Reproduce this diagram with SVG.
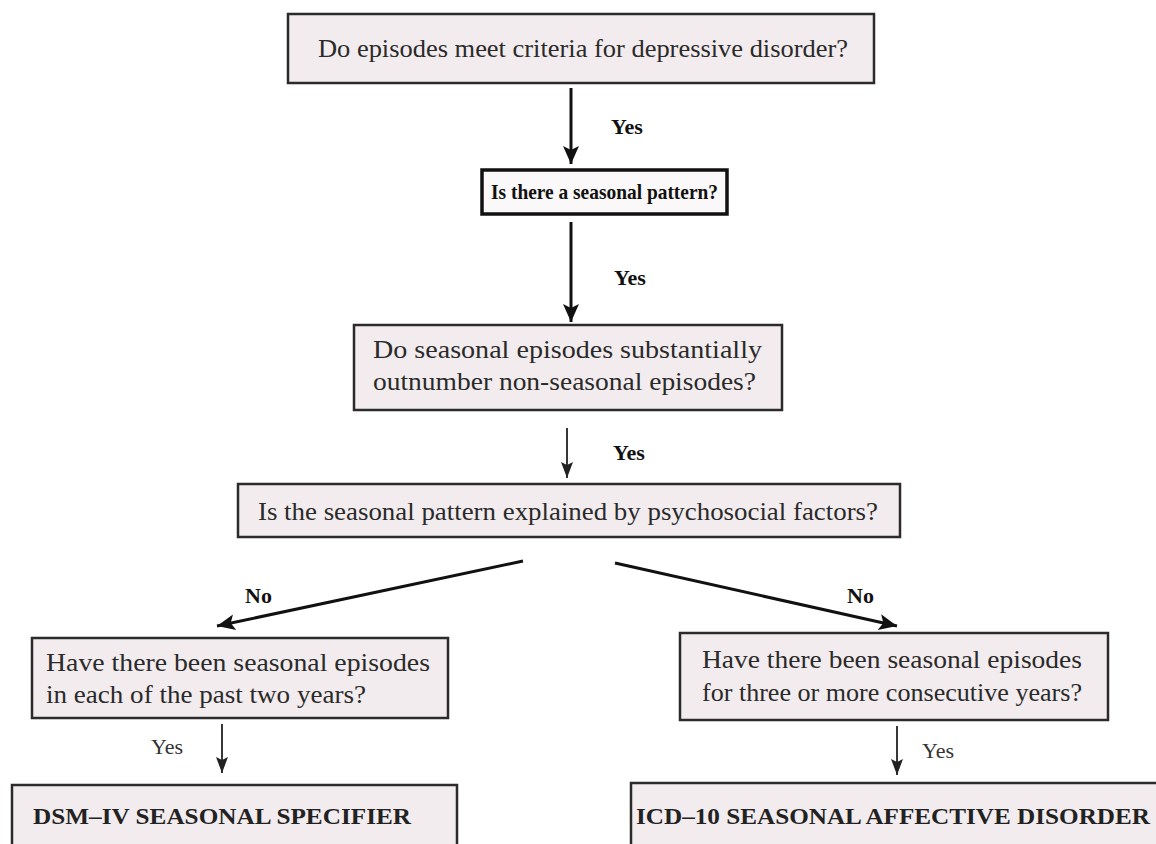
<svg xmlns="http://www.w3.org/2000/svg" width="1156" height="844" viewBox="0 0 1156 844">
<defs>
<style>
.box{fill:#f3ecee;stroke:#2b2b2b;stroke-width:2.5}
.boxb{fill:#faf8f8;stroke:#111;stroke-width:3.5}
.t{font-family:"Liberation Serif",serif;font-size:25px;fill:#2a2a2a}
.tb{font-family:"Liberation Serif",serif;font-size:21px;font-weight:bold;fill:#111}
.tc{font-family:"Liberation Serif",serif;font-size:24px;font-weight:bold;fill:#222}
.lab{font-family:"Liberation Serif",serif;font-size:22px;font-weight:bold;fill:#111}
.labr{font-family:"Liberation Serif",serif;font-size:22px;fill:#333}
.thick{stroke:#111;stroke-width:3;fill:none}
.thin{stroke:#222;stroke-width:1.8;fill:none}
</style>
<marker id="ah" markerUnits="userSpaceOnUse" markerWidth="22" markerHeight="22" viewBox="0 0 22 22" refX="20" refY="11" orient="auto">
<path d="M2,3 L20,11 L2,19 L6,11 Z" fill="#111"/>
</marker>
<marker id="ahs" markerUnits="userSpaceOnUse" markerWidth="18" markerHeight="18" viewBox="0 0 18 18" refX="17" refY="9" orient="auto">
<path d="M1,3 L17,9 L1,15 L4,9 Z" fill="#222"/>
</marker>
</defs>
<rect width="1156" height="844" fill="#fff"/>

<g id="connectors">
<line class="thick" x1="571" y1="88" x2="571" y2="164" marker-end="url(#ah)"/>
<line class="thick" x1="571" y1="222" x2="571" y2="322" marker-end="url(#ah)"/>
<line class="thin" x1="567" y1="428" x2="567" y2="478" marker-end="url(#ahs)"/>
<line class="thick" x1="523" y1="561" x2="217" y2="626" marker-end="url(#ah)"/>
<line class="thick" x1="615" y1="563" x2="897" y2="626" marker-end="url(#ah)"/>
<line class="thin" x1="222" y1="724" x2="222" y2="773" marker-end="url(#ahs)"/>
<line class="thin" x1="897" y1="726" x2="897" y2="775" marker-end="url(#ahs)"/>
<text class="lab" x="611" y="134">Yes</text>
<text class="lab" x="614" y="285">Yes</text>
<text class="lab" x="613" y="460">Yes</text>
<text class="lab" x="245" y="603">No</text>
<text class="lab" x="847" y="603">No</text>
<text class="labr" x="151" y="754">Yes</text>
<text class="labr" x="922" y="758">Yes</text>
</g>

<g id="n1">
<rect class="box" x="288" y="14" width="586" height="69"/>
<text class="t" x="318" y="57" textLength="530" lengthAdjust="spacingAndGlyphs">Do episodes meet criteria for depressive disorder?</text>
</g>
<g id="n2">
<rect class="boxb" x="482" y="170" width="245" height="44"/>
<text class="tb" x="491" y="199" textLength="227" lengthAdjust="spacingAndGlyphs">Is there a seasonal pattern?</text>
</g>
<g id="n3">
<rect class="box" x="354" y="325" width="428" height="85"/>
<text class="t" x="373" y="358" textLength="389" lengthAdjust="spacingAndGlyphs">Do seasonal episodes substantially</text>
<text class="t" x="373" y="390" textLength="383" lengthAdjust="spacingAndGlyphs">outnumber non-seasonal episodes?</text>
</g>
<g id="n4">
<rect class="box" x="238" y="484" width="662" height="53"/>
<text class="t" x="258" y="520" textLength="620" lengthAdjust="spacingAndGlyphs">Is the seasonal pattern explained by psychosocial factors?</text>
</g>
<g id="n5">
<rect class="box" x="32" y="638" width="416" height="80"/>
<text class="t" x="46" y="671" textLength="384" lengthAdjust="spacingAndGlyphs">Have there been seasonal episodes</text>
<text class="t" x="46" y="703" textLength="320" lengthAdjust="spacingAndGlyphs">in each of the past two years?</text>
</g>
<g id="n6">
<rect class="box" x="680" y="633" width="428" height="87"/>
<text class="t" x="702" y="668" textLength="380" lengthAdjust="spacingAndGlyphs">Have there been seasonal episodes</text>
<text class="t" x="702" y="701" textLength="380" lengthAdjust="spacingAndGlyphs">for three or more consecutive years?</text>
</g>
<g id="n7">
<rect class="box" x="12" y="785" width="445" height="70"/>
<text class="tc" x="33" y="824" textLength="378" lengthAdjust="spacingAndGlyphs">DSM–IV SEASONAL SPECIFIER</text>
</g>
<g id="n8">
<rect class="box" x="631" y="783" width="540" height="72"/>
<text class="tc" x="636" y="824" textLength="514" lengthAdjust="spacingAndGlyphs">ICD–10 SEASONAL AFFECTIVE DISORDER</text>
</g>
</svg>
